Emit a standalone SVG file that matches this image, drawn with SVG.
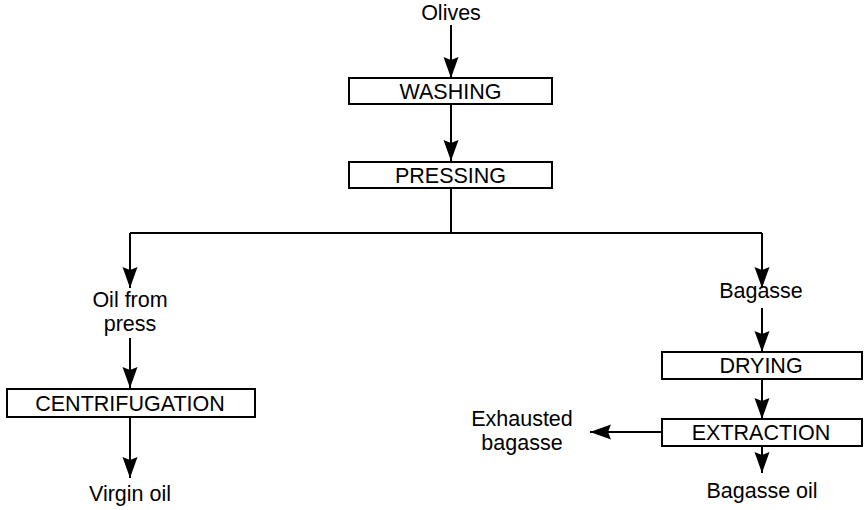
<svg xmlns="http://www.w3.org/2000/svg" width="864" height="510" viewBox="0 0 864 510">
<defs>
<marker id="ah" markerUnits="userSpaceOnUse" markerWidth="24" markerHeight="18" viewBox="-22 -9 24 18" refX="0" refY="0" orient="auto">
<path d="M0,0 L-21,-7.5 L-18,0 L-21,7.5 Z" fill="#000"/>
</marker>
<style>
.box{fill:#fff;stroke:#000;stroke-width:2}
.t{font-family:"Liberation Sans",Arial,Helvetica,sans-serif;font-size:21.5px;fill:#000;text-anchor:middle}
.c{fill:none;stroke:#000;stroke-width:2}
.a{fill:none;stroke:#000;stroke-width:2;marker-end:url(#ah)}
</style>
</defs>
<rect width="864" height="510" fill="#fff"/>
<g id="connectors">
<line class="a" x1="451" y1="25" x2="451" y2="78"/>
<line class="a" x1="451" y1="104" x2="451" y2="161"/>
<polyline class="c" points="451,188 451,233"/>
<polyline class="c" points="130,233 762,233"/>
<line class="a" x1="130" y1="233" x2="130" y2="288"/>
<line class="a" x1="762" y1="233" x2="762" y2="288"/>
<line class="a" x1="130" y1="338" x2="130" y2="388"/>
<line class="a" x1="130" y1="417" x2="130" y2="478"/>
<line class="a" x1="762" y1="308" x2="762" y2="352"/>
<line class="a" x1="762" y1="379" x2="762" y2="419"/>
<line class="a" x1="762" y1="446" x2="762" y2="473"/>
<line class="a" x1="662" y1="432" x2="590" y2="432"/>
</g>
<g id="olives"><text class="t" x="451" y="20">Olives</text></g>
<g id="washing"><rect class="box" x="349" y="78" width="203" height="26"/><text class="t" x="450.5" y="98.5">WASHING</text></g>
<g id="pressing"><rect class="box" x="349" y="162" width="203" height="26"/><text class="t" x="450.5" y="182.5">PRESSING</text></g>
<g id="oil-from-press"><text class="t" x="130" y="307">Oil from</text><text class="t" x="130" y="331">press</text></g>
<g id="centrifugation"><rect class="box" x="7" y="389" width="248" height="28"/><text class="t" x="130" y="410.5">CENTRIFUGATION</text></g>
<g id="virgin-oil"><text class="t" x="130" y="501">Virgin oil</text></g>
<g id="bagasse"><text class="t" x="761" y="298">Bagasse</text></g>
<g id="drying"><rect class="box" x="662" y="352" width="200" height="27"/><text class="t" x="761" y="373">DRYING</text></g>
<g id="extraction"><rect class="box" x="662" y="419" width="200" height="27"/><text class="t" x="761" y="439.5">EXTRACTION</text></g>
<g id="exhausted-bagasse"><text class="t" x="522" y="426">Exhausted</text><text class="t" x="522" y="450">bagasse</text></g>
<g id="bagasse-oil"><text class="t" x="762" y="498">Bagasse oil</text></g>
</svg>
